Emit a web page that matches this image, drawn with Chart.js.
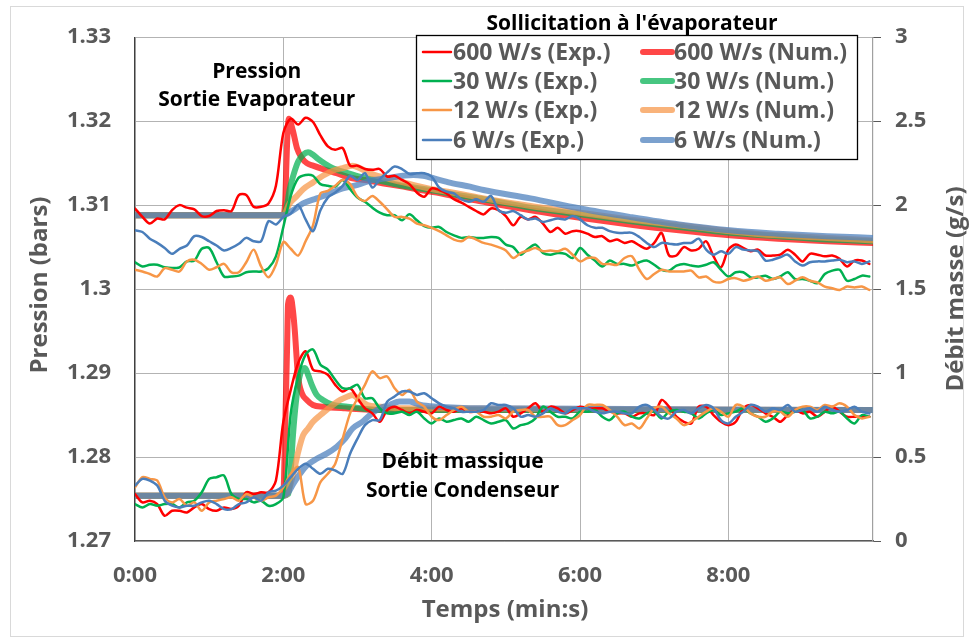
<!DOCTYPE html>
<html>
<head>
<meta charset="utf-8">
<script src="https://cdn.jsdelivr.net/npm/chart.js@4.4.1/dist/chart.umd.min.js"></script>
<style>
    html, body { margin: 0; padding: 0; background: #fff; }
    #frame { position: absolute; left: 10px; top: 6px; width: 952px; height: 629px; border: 1px solid #d9d9d9; }
    #wrap { position: absolute; left: 0; top: 0; width: 974px; height: 642px; }
</style>
</head>
<body>
<div id="frame"></div>
<div id="wrap"><canvas id="chart" width="974" height="642"></canvas></div>
<script>
// time base of the measurements (s), one sample every 6 s
const expTime = [
    0, 6, 12, 18, 24, 30, 36, 42, 48, 54, 60, 66, 72, 78, 84, 90, 96, 102, 108, 114,
    120, 126, 132, 138, 144, 150, 156, 162, 168, 174, 180, 186, 192, 198, 204, 210, 216, 222, 228, 234,
    240, 246, 252, 258, 264, 270, 276, 282, 288, 294, 300, 306, 312, 318, 324, 330, 336, 342, 348, 354,
    360, 366, 372, 378, 384, 390, 396, 402, 408, 414, 420, 426, 432, 438, 444, 450, 456, 462, 468, 474,
    480, 486, 492, 498, 504, 510, 516, 522, 528, 534, 540, 546, 552, 558, 564, 570, 576, 582, 588, 594,
];

// pressure at evaporator outlet (bars), measured
const pressExp600 = [
    1.3096, 1.3086, 1.3078, 1.3084, 1.3083, 1.3094, 1.3100, 1.3097, 1.3095, 1.3087,
    1.3087, 1.3093, 1.3094, 1.3093, 1.3112, 1.3112, 1.3098, 1.3098, 1.3102, 1.3123,
    1.3186, 1.3203, 1.3196, 1.3204, 1.3199, 1.3183, 1.3170, 1.3166, 1.3168, 1.3147,
    1.3147, 1.3143, 1.3142, 1.3143, 1.3134, 1.3135, 1.3130, 1.3125, 1.3115, 1.3110,
    1.3120, 1.3118, 1.3114, 1.3107, 1.3103, 1.3098, 1.3093, 1.3089, 1.3096, 1.3094,
    1.3087, 1.3076, 1.3086, 1.3083, 1.3086, 1.3078, 1.3068, 1.3073, 1.3066, 1.3069,
    1.3069, 1.3066, 1.3062, 1.3063, 1.3057, 1.3059, 1.3055, 1.3057, 1.3052, 1.3048,
    1.3055, 1.3067, 1.3040, 1.3040, 1.3050, 1.3046, 1.3048, 1.3057, 1.3039, 1.3026,
    1.3047, 1.3053, 1.3049, 1.3045, 1.3047, 1.3040, 1.3040, 1.3041, 1.3047, 1.3041,
    1.3033, 1.3042, 1.3041, 1.3039, 1.3040, 1.3036, 1.3027, 1.3034, 1.3034, 1.3030,
];
const pressExp30 = [
    1.3032, 1.3027, 1.3029, 1.3029, 1.3026, 1.3025, 1.3026, 1.3033, 1.3034, 1.3048,
    1.3049, 1.3032, 1.3015, 1.3015, 1.3016, 1.3020, 1.3021, 1.3021, 1.3025, 1.3039,
    1.3074, 1.3111, 1.3132, 1.3136, 1.3135, 1.3125, 1.3123, 1.3122, 1.3130, 1.3119,
    1.3109, 1.3104, 1.3097, 1.3091, 1.3088, 1.3088, 1.3082, 1.3089, 1.3082, 1.3075,
    1.3073, 1.3074, 1.3068, 1.3064, 1.3061, 1.3062, 1.3061, 1.3061, 1.3062, 1.3061,
    1.3053, 1.3050, 1.3041, 1.3048, 1.3053, 1.3043, 1.3041, 1.3043, 1.3042, 1.3037,
    1.3049, 1.3041, 1.3034, 1.3027, 1.3034, 1.3030, 1.3030, 1.3028, 1.3032, 1.3034,
    1.3029, 1.3023, 1.3022, 1.3028, 1.3030, 1.3028, 1.3027, 1.3029, 1.3032, 1.3023,
    1.3015, 1.3020, 1.3020, 1.3014, 1.3014, 1.3016, 1.3012, 1.3015, 1.3020, 1.3012,
    1.3012, 1.3010, 1.3007, 1.3018, 1.3022, 1.3023, 1.3010, 1.3012, 1.3016, 1.3015,
];
const pressExp12 = [
    1.3023, 1.3021, 1.3018, 1.3015, 1.3025, 1.3023, 1.3021, 1.3033, 1.3035, 1.3030,
    1.3023, 1.3026, 1.3030, 1.3020, 1.3020, 1.3032, 1.3047, 1.3027, 1.3014, 1.3029,
    1.3056, 1.3048, 1.3040, 1.3057, 1.3076, 1.3114, 1.3117, 1.3123, 1.3130, 1.3125,
    1.3110, 1.3105, 1.3111, 1.3104, 1.3095, 1.3086, 1.3086, 1.3084, 1.3078, 1.3076,
    1.3073, 1.3069, 1.3064, 1.3059, 1.3057, 1.3062, 1.3059, 1.3055, 1.3053, 1.3050,
    1.3046, 1.3037, 1.3043, 1.3046, 1.3049, 1.3045, 1.3046, 1.3045, 1.3048, 1.3041,
    1.3033, 1.3037, 1.3037, 1.3030, 1.3030, 1.3029, 1.3037, 1.3039, 1.3023, 1.3012,
    1.3018, 1.3023, 1.3021, 1.3021, 1.3021, 1.3022, 1.3014, 1.3015, 1.3009, 1.3008,
    1.3012, 1.3013, 1.3010, 1.3012, 1.3015, 1.3010, 1.3012, 1.3014, 1.3006, 1.3010,
    1.3014, 1.3010, 1.3008, 1.3003, 1.3001, 1.2999, 1.3003, 1.3002, 1.3003, 1.2999,
];
const pressExp6 = [
    1.3070, 1.3068, 1.3060, 1.3055, 1.3049, 1.3042, 1.3048, 1.3052, 1.3063, 1.3062,
    1.3057, 1.3052, 1.3046, 1.3049, 1.3054, 1.3061, 1.3057, 1.3057, 1.3081, 1.3077,
    1.3086, 1.3090, 1.3100, 1.3083, 1.3069, 1.3094, 1.3109, 1.3115, 1.3123, 1.3135,
    1.3130, 1.3138, 1.3121, 1.3131, 1.3139, 1.3146, 1.3143, 1.3137, 1.3138, 1.3138,
    1.3134, 1.3121, 1.3116, 1.3114, 1.3107, 1.3104, 1.3107, 1.3104, 1.3111, 1.3094,
    1.3091, 1.3093, 1.3088, 1.3083, 1.3084, 1.3080, 1.3082, 1.3084, 1.3083, 1.3087,
    1.3083, 1.3076, 1.3073, 1.3073, 1.3069, 1.3067, 1.3067, 1.3067, 1.3062, 1.3055,
    1.3050, 1.3055, 1.3054, 1.3053, 1.3055, 1.3055, 1.3060, 1.3047, 1.3041, 1.3045,
    1.3042, 1.3050, 1.3047, 1.3046, 1.3045, 1.3034, 1.3035, 1.3038, 1.3041, 1.3033,
    1.3028, 1.3032, 1.3033, 1.3033, 1.3034, 1.3035, 1.3032, 1.3033, 1.3030, 1.3033,
];

// mass flow at condenser outlet (g/s), measured
const massExp600 = [
    0.28, 0.23, 0.24, 0.22, 0.15, 0.18, 0.18, 0.17, 0.20, 0.22,
    0.19, 0.18, 0.20, 0.19, 0.21, 0.29, 0.28, 0.29, 0.29, 0.36,
    0.71, 0.90, 1.06, 1.13, 1.02, 1.01, 0.99, 0.93, 0.89, 0.91,
    0.85, 0.79, 0.76, 0.71, 0.78, 0.80, 0.78, 0.76, 0.78, 0.77,
    0.76, 0.80, 0.78, 0.77, 0.79, 0.77, 0.77, 0.77, 0.76, 0.77,
    0.79, 0.74, 0.76, 0.79, 0.82, 0.77, 0.80, 0.79, 0.76, 0.78,
    0.80, 0.79, 0.79, 0.79, 0.77, 0.76, 0.76, 0.74, 0.76, 0.76,
    0.75, 0.84, 0.80, 0.74, 0.71, 0.70, 0.80, 0.80, 0.75, 0.71,
    0.69, 0.71, 0.79, 0.81, 0.79, 0.76, 0.74, 0.71, 0.75, 0.78,
    0.76, 0.77, 0.74, 0.77, 0.80, 0.77, 0.74, 0.74, 0.74, 0.74,
];
const massExp30 = [
    0.22, 0.20, 0.22, 0.21, 0.22, 0.22, 0.20, 0.23, 0.24, 0.29,
    0.37, 0.38, 0.39, 0.28, 0.25, 0.25, 0.23, 0.24, 0.21, 0.22,
    0.26, 0.76, 0.98, 1.11, 1.14, 1.05, 1.02, 0.96, 0.91, 0.91,
    0.93, 0.85, 0.85, 0.79, 0.76, 0.76, 0.77, 0.75, 0.77, 0.73,
    0.70, 0.73, 0.71, 0.72, 0.73, 0.71, 0.74, 0.72, 0.70, 0.71,
    0.72, 0.67, 0.69, 0.70, 0.73, 0.80, 0.77, 0.74, 0.74, 0.73,
    0.77, 0.77, 0.78, 0.74, 0.72, 0.76, 0.77, 0.74, 0.73, 0.76,
    0.77, 0.73, 0.77, 0.78, 0.77, 0.76, 0.73, 0.76, 0.78, 0.75,
    0.76, 0.77, 0.79, 0.76, 0.74, 0.71, 0.73, 0.77, 0.76, 0.77,
    0.78, 0.73, 0.74, 0.77, 0.76, 0.77, 0.73, 0.70, 0.75, 0.74,
];
const massExp12 = [
    0.32, 0.38, 0.37, 0.36, 0.26, 0.23, 0.25, 0.21, 0.23, 0.18,
    0.23, 0.24, 0.25, 0.26, 0.24, 0.28, 0.26, 0.24, 0.26, 0.27,
    0.32, 0.40, 0.44, 0.22, 0.24, 0.35, 0.40, 0.46, 0.61, 0.76,
    0.85, 0.93, 1.01, 0.97, 0.98, 0.91, 0.87, 0.90, 0.83, 0.80,
    0.74, 0.72, 0.75, 0.78, 0.80, 0.77, 0.77, 0.74, 0.74, 0.75,
    0.73, 0.77, 0.78, 0.78, 0.74, 0.74, 0.74, 0.69, 0.69, 0.72,
    0.75, 0.81, 0.81, 0.81, 0.78, 0.74, 0.69, 0.70, 0.67, 0.73,
    0.79, 0.80, 0.76, 0.73, 0.69, 0.71, 0.74, 0.77, 0.79, 0.77,
    0.74, 0.81, 0.80, 0.76, 0.74, 0.74, 0.77, 0.77, 0.74, 0.78,
    0.80, 0.80, 0.78, 0.81, 0.80, 0.82, 0.80, 0.75, 0.73, 0.74,
];
const massExp6 = [
    0.33, 0.37, 0.36, 0.33, 0.24, 0.21, 0.20, 0.21, 0.21, 0.23,
    0.24, 0.22, 0.19, 0.19, 0.22, 0.23, 0.26, 0.24, 0.29, 0.30,
    0.33, 0.38, 0.43, 0.46, 0.43, 0.40, 0.43, 0.42, 0.40, 0.52,
    0.61, 0.69, 0.72, 0.72, 0.83, 0.86, 0.89, 0.89, 0.87, 0.88,
    0.85, 0.82, 0.80, 0.79, 0.77, 0.77, 0.77, 0.78, 0.82, 0.81,
    0.81, 0.79, 0.74, 0.75, 0.74, 0.76, 0.79, 0.77, 0.76, 0.79,
    0.79, 0.79, 0.77, 0.76, 0.77, 0.77, 0.76, 0.76, 0.80, 0.81,
    0.78, 0.74, 0.73, 0.77, 0.78, 0.76, 0.79, 0.81, 0.79, 0.72,
    0.70, 0.74, 0.77, 0.81, 0.80, 0.77, 0.79, 0.78, 0.81, 0.77,
    0.78, 0.79, 0.77, 0.80, 0.78, 0.77, 0.78, 0.80, 0.77, 0.76,
];

// simulation results, each with its own time points (s)
const pressNumT600 = [0, 120, 121.5, 122.5, 123.5, 124.5, 126, 128, 131, 135, 139, 144, 152, 163, 176, 190, 204, 217, 231, 244, 257, 271, 285, 320, 360, 400, 440, 481, 520, 560, 597];
const pressNum600 = [1.3088, 1.3088, 1.3105, 1.3150, 1.3190, 1.3203, 1.3198, 1.3187, 1.3168, 1.3156, 1.3150, 1.3147, 1.3143, 1.3138, 1.3132, 1.3129, 1.3125, 1.3122, 1.3118, 1.3115, 1.3111, 1.3107, 1.3103, 1.3094, 1.3085, 1.3077, 1.3070, 1.3064, 1.3060, 1.3057, 1.3055];
const pressNumT30 = [0, 120, 123, 125, 128, 132, 136, 140, 144, 148, 154, 160, 172, 184, 198, 217, 239, 261, 282, 320, 360, 400, 440, 481, 520, 560, 597];
const pressNum30 = [1.3088, 1.3088, 1.3100, 1.3118, 1.3135, 1.3152, 1.3160, 1.3163, 1.3160, 1.3155, 1.3149, 1.3144, 1.3138, 1.3133, 1.3129, 1.3123, 1.3118, 1.3112, 1.3107, 1.3097, 1.3089, 1.3081, 1.3074, 1.3067, 1.3063, 1.3059, 1.3057];
const pressNumT12 = [0, 120, 125, 131, 136, 144, 152, 160, 168, 176, 182, 190, 204, 217, 231, 244, 261, 282, 320, 360, 400, 440, 481, 520, 560, 597];
const pressNum12 = [1.3088, 1.3088, 1.3102, 1.3111, 1.3119, 1.3127, 1.3135, 1.3141, 1.3144, 1.3147, 1.3144, 1.3138, 1.3132, 1.3127, 1.3122, 1.3118, 1.3114, 1.3108, 1.3099, 1.3091, 1.3083, 1.3076, 1.3069, 1.3064, 1.3061, 1.3058];
const pressNumT6 = [0, 120, 128, 136, 147, 158, 168, 180, 190, 204, 217, 225, 233, 244, 257, 271, 282, 320, 360, 400, 440, 481, 520, 560, 597];
const pressNum6 = [1.3088, 1.3088, 1.3094, 1.3102, 1.3108, 1.3114, 1.3120, 1.3124, 1.3129, 1.3132, 1.3135, 1.3136, 1.3135, 1.3131, 1.3126, 1.3122, 1.3118, 1.3108, 1.3096, 1.3086, 1.3077, 1.3070, 1.3066, 1.3063, 1.3061];

const massNumT600 = [0, 120, 120.5, 121.4, 123, 123.8, 126, 127.8, 129.4, 130.3, 131.9, 135, 139, 144, 152, 170, 200, 597];
const massNum600 = [0.27, 0.27, 0.36, 0.65, 1.14, 1.41, 1.45, 1.37, 1.24, 1.14, 0.98, 0.88, 0.84, 0.81, 0.80, 0.79, 0.78, 0.78];
const massNumT30 = [0, 120, 124, 125.4, 128, 131, 133.5, 137.5, 140, 143, 147, 152, 160, 172, 200, 597];
const massNum30 = [0.27, 0.27, 0.28, 0.36, 0.65, 0.88, 0.99, 1.03, 0.99, 0.93, 0.87, 0.84, 0.81, 0.80, 0.78, 0.78];
const massNumT12 = [0, 120, 123, 128, 132, 136, 140, 144, 150, 155, 160, 166, 172, 176, 180, 188, 198, 217, 597];
const massNum12 = [0.27, 0.27, 0.28, 0.40, 0.53, 0.63, 0.67, 0.71, 0.75, 0.78, 0.81, 0.84, 0.86, 0.87, 0.85, 0.81, 0.80, 0.79, 0.78];
const massNumT6 = [0, 120, 124, 128, 133.5, 139, 147, 155, 163, 170, 176, 184, 190, 198, 206, 214, 222, 231, 244, 280, 597];
const massNum6 = [0.27, 0.27, 0.29, 0.34, 0.40, 0.45, 0.49, 0.52, 0.56, 0.61, 0.67, 0.71, 0.75, 0.79, 0.81, 0.83, 0.83, 0.81, 0.80, 0.79, 0.78];

const powers = ['600 W/s', '30 W/s', '12 W/s', '6 W/s'];
const pressTicks = [1.27, 1.28, 1.29, 1.30, 1.31, 1.32, 1.33];
const massTicks = [0, 0.5, 1, 1.5, 2, 2.5, 3];
const timeTicks = [0, 120, 240, 360, 480];

const expColors = ['#ff0000', '#00b050', '#f79646', '#4a7ebb'];
const numColors = ['rgba(255, 0, 0, 0.72)', 'rgba(0, 176, 80, 0.72)', 'rgba(247, 150, 70, 0.72)', 'rgba(79, 129, 189, 0.75)'];

const FONT = "'Open Sans', sans-serif";
const GREY = '#595959';

const pts = (xs, ys) => xs.map((x, i) => ({ x, y: ys[i] }));

const pressExp = [pressExp600, pressExp30, pressExp12, pressExp6];
const massExp = [massExp600, massExp30, massExp12, massExp6];
const pressNum = [[pressNumT600, pressNum600], [pressNumT30, pressNum30], [pressNumT12, pressNum12], [pressNumT6, pressNum6]];
const massNum = [[massNumT600, massNum600], [massNumT30, massNum30], [massNumT12, massNum12], [massNumT6, massNum6]];

// bottom to top: simulation curves first, measurements over them
const datasets = [];
powers.forEach((p, i) => {
    datasets.push({ label: p + ' (Num.)', data: pts(...pressNum[i]), yAxisID: 'y', borderColor: numColors[i], borderWidth: 6, cubicInterpolationMode: 'monotone', kind: 'num', idx: i });
    datasets.push({ label: p + ' (Num.)', data: pts(...massNum[i]), yAxisID: 'y1', borderColor: numColors[i], borderWidth: 6, cubicInterpolationMode: 'monotone', kind: 'num', idx: i });
});
powers.forEach((p, i) => {
    datasets.push({ label: p + ' (Exp.)', data: pts(expTime, pressExp[i]), yAxisID: 'y', borderColor: expColors[i], borderWidth: 2.5, tension: 0.3, kind: 'exp', idx: i });
    datasets.push({ label: p + ' (Exp.)', data: pts(expTime, massExp[i]), yAxisID: 'y1', borderColor: expColors[i], borderWidth: 2.5, tension: 0.3, kind: 'exp', idx: i });
});
datasets.forEach((d, i) => {
    d.order = datasets.length - i;
    d.pointRadius = 0;
    d.fill = false;
    d.borderJoinStyle = 'round';
    d.borderCapStyle = 'round';
});

const fmtTime = (v) => Math.floor(v / 60) + ':' + String(Math.round(v % 60)).padStart(2, '0');
const fmtNum = (v) => String(Number(v.toFixed(2)));

const overlay = {
    id: 'overlay',
    afterDraw(chart) {
        const { ctx, scales } = chart;
        ctx.save();

        // legend
        const box = { x: 416, y: 35, w: 441, h: 124 };
        ctx.fillStyle = '#fff';
        ctx.fillRect(box.x, box.y, box.w, box.h);
        ctx.strokeStyle = '#000';
        ctx.lineWidth = 1.3;
        ctx.strokeRect(box.x + 0.5, box.y + 0.5, box.w, box.h);

        ctx.fillStyle = '#000';
        ctx.font = 'bold 21px ' + FONT;
        ctx.textAlign = 'center';
        ctx.textBaseline = 'middle';
        ctx.fillText("Sollicitation à l'évaporateur", 632, 24);

        const rows = [52, 81, 110, 140];
        const cols = [{ kind: 'exp', x: 423, w: 28, lw: 2.5 }, { kind: 'num', x: 643, w: 29, lw: 6 }];
        ctx.font = 'bold 23px ' + FONT;
        ctx.textAlign = 'left';
        cols.forEach((c) => {
            powers.forEach((p, i) => {
                const ds = chart.data.datasets.find((d) => d.kind === c.kind && d.idx === i);
                ctx.strokeStyle = ds.borderColor;
                ctx.lineWidth = c.lw;
                ctx.lineCap = 'round';
                ctx.beginPath();
                ctx.moveTo(c.x, rows[i]);
                ctx.lineTo(c.x + c.w, rows[i]);
                ctx.stroke();
                ctx.fillStyle = GREY;
                ctx.fillText(ds.label, c.x + c.w + 2, rows[i] + 1);
            });
        });

        // annotations
        const x = scales.x, y = scales.y, y1 = scales.y1;
        ctx.fillStyle = '#000';
        ctx.font = 'bold 21px ' + FONT;
        ctx.textAlign = 'center';
        ctx.fillText('Pression', x.getPixelForValue(98.5), y.getPixelForValue(1.3259));
        ctx.fillText('Sortie Evaporateur', x.getPixelForValue(98.5), y.getPixelForValue(1.3225));
        ctx.fillText('Débit massique', x.getPixelForValue(265), y1.getPixelForValue(0.47));
        ctx.fillText('Sortie Condenseur', x.getPixelForValue(265), y1.getPixelForValue(0.30));

        // axis titles
        ctx.fillStyle = GREY;
        ctx.font = 'bold 24px ' + FONT;
        ctx.fillText('Temps (min:s)', 505, 610);
        ctx.save();
        ctx.translate(40, 285);
        ctx.rotate(-Math.PI / 2);
        ctx.fillText('Pression (bars)', 0, 0);
        ctx.restore();
        ctx.save();
        ctx.translate(956, 289);
        ctx.rotate(-Math.PI / 2);
        ctx.fillText('Débit masse (g/s)', 0, 0);
        ctx.restore();

        ctx.restore();
    },
};

new Chart(document.getElementById('chart'), {
    type: 'line',
    data: { datasets },
    plugins: [overlay],
    options: {
        responsive: false,
        animation: false,
        devicePixelRatio: 1,
        layout: { padding: { top: 29, left: 0, right: 0, bottom: 0 } },
        plugins: {
            legend: { display: false },
            tooltip: { enabled: false },
        },
        scales: {
            x: {
                type: 'linear',
                min: 0,
                max: 597,
                afterBuildTicks: (s) => { s.ticks = timeTicks.map((v) => ({ value: v })); },
                afterFit: (s) => { s.height = 101; },
                ticks: {
                    callback: fmtTime,
                    color: GREY,
                    font: { family: FONT, size: 22, weight: 'bold' },
                    padding: 22,
                    maxRotation: 0,
                    autoSkip: false,
                    includeBounds: false,
                },
                grid: { color: '#b3b3b3', drawTicks: false },
                border: { color: '#595959', width: 1.2 },
            },
            y: {
                position: 'left',
                min: 1.27,
                max: 1.33,
                afterBuildTicks: (s) => { s.ticks = pressTicks.map((v) => ({ value: v })); },
                afterFit: (s) => { s.width = 135; },
                ticks: {
                    callback: fmtNum,
                    color: GREY,
                    font: { family: FONT, size: 22, weight: 'bold' },
                    padding: 24,
                },
                grid: { color: '#b3b3b3', drawTicks: false },
                border: { color: '#404040', width: 1.2 },
            },
            y1: {
                position: 'right',
                min: 0,
                max: 3,
                afterBuildTicks: (s) => { s.ticks = massTicks.map((v) => ({ value: v })); },
                afterFit: (s) => { s.width = 101; },
                ticks: {
                    callback: fmtNum,
                    color: GREY,
                    font: { family: FONT, size: 22, weight: 'bold' },
                    padding: 14,
                },
                grid: { drawOnChartArea: false, drawTicks: true, tickLength: 8, color: '#595959' },
                border: { color: '#a0a0a0', width: 1.2 },
            },
        },
    },
});
</script>
</body>
</html>
